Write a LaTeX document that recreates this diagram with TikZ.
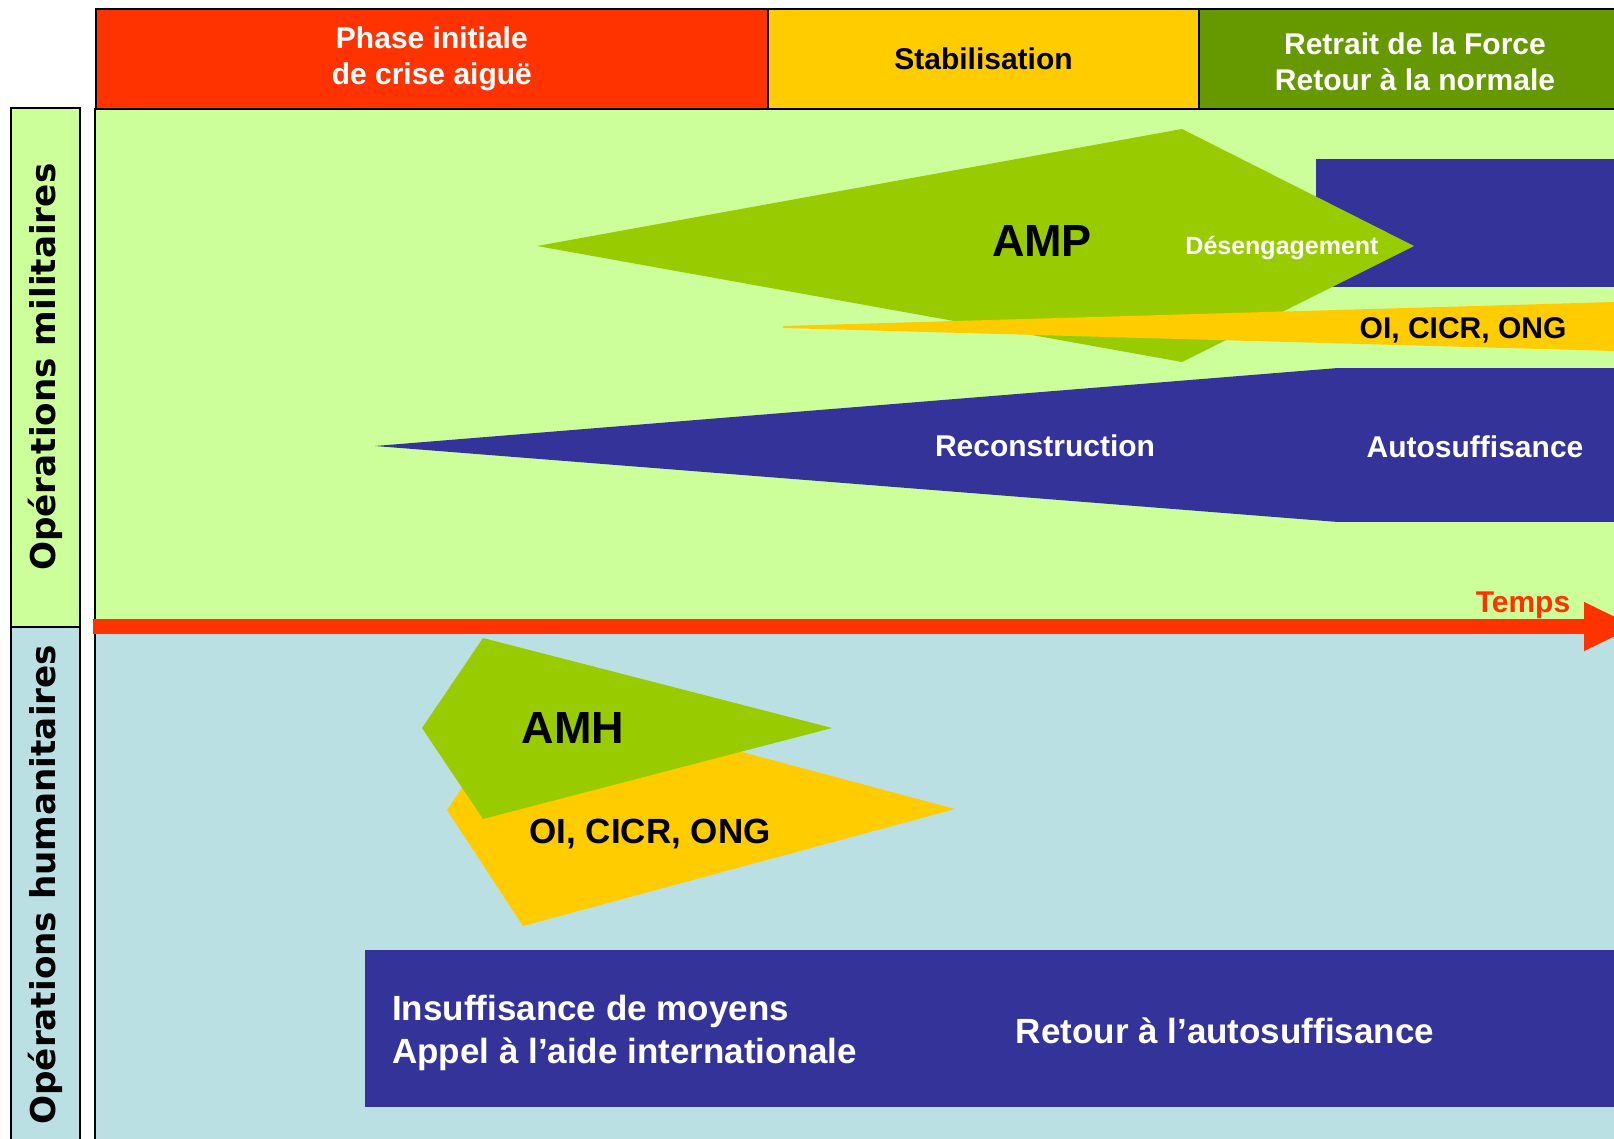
\documentclass[tikz,border=0pt]{standalone}
\usepackage{fontspec}
\setmainfont{Liberation Sans}
\newfontfamily\sidefont{DejaVu Sans}
\usetikzlibrary{arrows.meta}
\definecolor{hdrred}{HTML}{FF3300}
\definecolor{hdryellow}{HTML}{FFCC00}
\definecolor{hdrgreen}{HTML}{669900}
\definecolor{lightgreen}{HTML}{CCFF99}
\definecolor{lightblue}{HTML}{BBE0E3}
\definecolor{navy}{HTML}{333399}
\definecolor{ampgreen}{HTML}{99CC00}
\begin{document}
\begin{tikzpicture}[x=1pt,y=-1pt,
  cell/.style={draw=black, line width=2pt, anchor=north west, minimum height=99.8pt, inner sep=0pt, align=center,
    font=\fontsize{30}{36}\selectfont\bfseries},
  sidebox/.style={draw=black, line width=2pt, rotate=90, minimum height=68.5pt, inner sep=0pt,
    font=\sidefont\fontsize{34.2}{40}\selectfont\bfseries},
  txt/.style={inner sep=0pt, font=\fontsize{30}{36}\selectfont\bfseries},
  bigtxt/.style={inner sep=0pt, font=\fontsize{45}{54}\selectfont\bfseries},
  midtxt/.style={inner sep=0pt, font=\fontsize{35}{43}\selectfont\bfseries}
]
\useasboundingbox (0,0) rectangle (1614,1139);
\clip (0,0) rectangle (1614,1139);

% main backgrounds
\fill[lightgreen] (95,108) rectangle (1630,626.5);
\fill[lightblue] (95,626.5) rectangle (1630,1150);
\draw[line width=2pt] (95,108) -- (95,1150);

% header cells
\node[cell, fill=hdrred, text=white, minimum width=672.3pt] (h1) at (94.7,8.2) {Phase initiale\\de crise aiguë};
\node[cell, fill=hdryellow, text=black, minimum width=431pt] (h2) at (767,8.2) {Stabilisation};
\node[cell, fill=hdrgreen, minimum width=432pt] (h3) at (1198,8.2) {};
\node[txt, align=center, text=white, yshift=-3pt] (h3t) at (h3.center) {Retrait de la Force\\Retour à la normale};

% side boxes
\node[sidebox, fill=lightgreen, minimum width=518.5pt] (s1) at (45.25,367.25) {Opérations militaires};
\node[sidebox, fill=lightblue, minimum width=516.5pt] (s2) at (45.25,884.75) {Opérations humanitaires};

% military operations
\fill[navy] (1316,159) rectangle (1630,287);
\fill[ampgreen] (537,246) -- (1182,129) -- (1414,246) -- (1182,362) -- cycle;
\fill[hdryellow] (783,326) -- (1614,302) -- (1630,301.5) -- (1630,351.5) -- (1614,351) -- (783,328) -- cycle;
\fill[navy] (375,446) -- (1338,368) -- (1338,522) -- cycle;
\fill[navy] (1338,368) rectangle (1630,522);

\node[bigtxt] (amp) at (1042,241) {AMP};
\node[inner sep=0pt, font=\fontsize{25}{30}\selectfont\bfseries, text=white] (des) at (1282,248) {Désengagement};
\node[txt] (oi1) at (1463,330) {OI, CICR, ONG};
\node[txt, text=white] (rec) at (1045,446) {Reconstruction};
\node[txt, text=white] (auto) at (1475,447) {Autosuffisance};

% humanitarian operations
\fill[hdryellow] (447,810) -- (525,694) -- (955,809) -- (523,926) -- cycle;
\fill[ampgreen] (422,728) -- (483,638) -- (832,728) -- (483,819) -- cycle;
\fill[navy] (365,950) rectangle (1630,1107);

\node[bigtxt] (amh) at (573,728) {AMH};
\node[midtxt] (oi2) at (650,834) {OI, CICR, ONG};
\node[midtxt, text=white, align=left, anchor=west] (insuf) at (392,1032.5) {Insuffisance de moyens\\Appel à l’aide internationale};
\node[midtxt, text=white] (ret) at (1225,1031) {Retour à l’autosuffisance};

% time arrow
\coordinate (t0) at (92.6,626.5);
\coordinate (t1) at (1636,626.5);
\draw[hdrred, line width=15pt, -{Triangle[length=52pt,width=45pt]}] (t0) -- (t1);
\node[anchor=base, inner sep=0pt, font=\fontsize{30}{36}\selectfont\bfseries, text=hdrred] (temps) at (1523,612) {Temps};
\end{tikzpicture}
\end{document}
